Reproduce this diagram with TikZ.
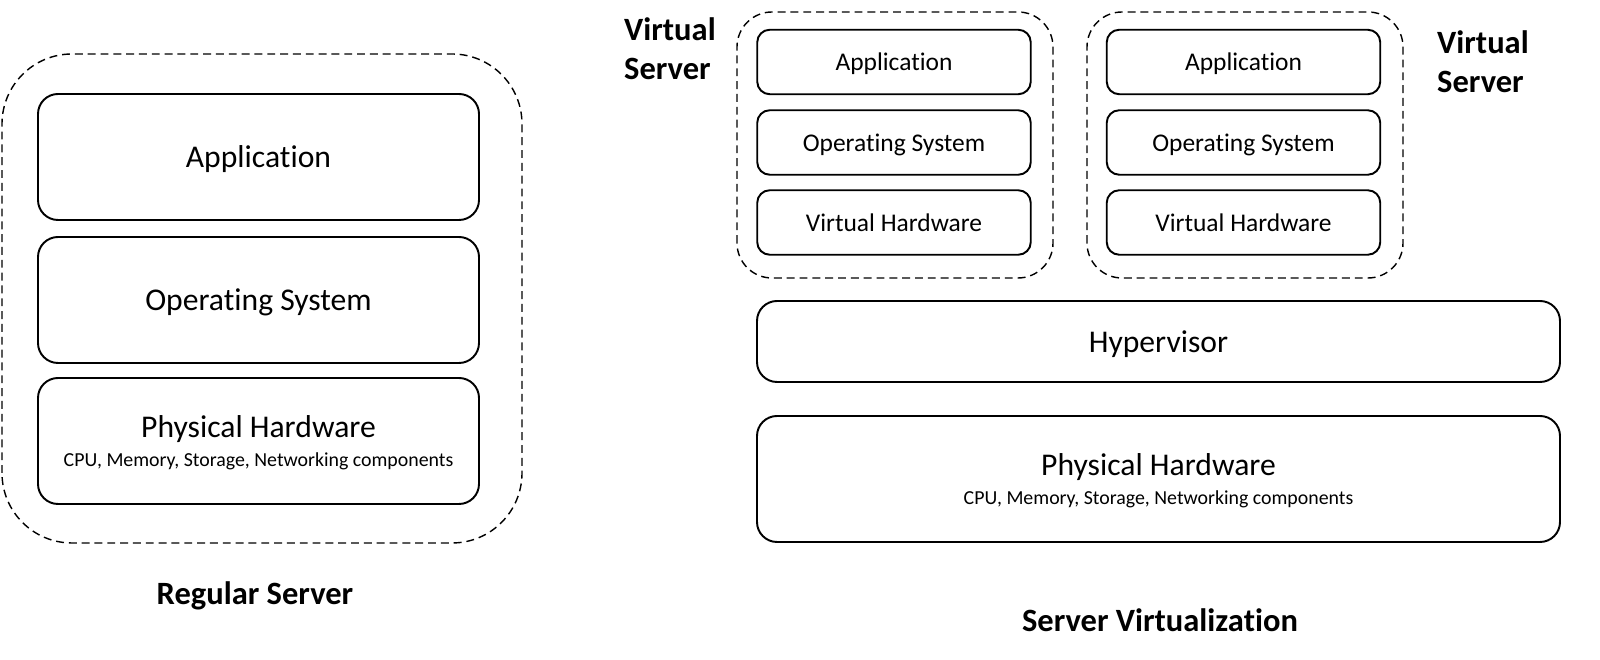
\documentclass[tikz,border=0pt]{standalone}
\usepackage{fontspec}
\setmainfont[Ligatures=NoCommon]{Carlito}
\tikzset{
	layer/.style={draw, line width=1.1pt, rounded corners=0.4cm, align=center, text depth=0pt,
		minimum width=8.82cm, minimum height=2.52cm, font=\fontsize{18}{21}\selectfont},
	vlayer/.style={draw, line width=1.1pt, rounded corners=0.25cm, text depth=0pt,
		minimum width=5.47cm, minimum height=1.29cm, font=\fontsize{14.5}{17}\selectfont},
	server/.style={draw, line width=0.8pt, dash pattern=on 4.5pt off 2.8pt, rounded corners=#1},
	caption/.style={font=\bfseries\fontsize{18.5}{22}\selectfont, align=left}
}
\newcommand{\hwdetail}{\\[-5pt]{\fontsize{11.3}{13}\selectfont CPU, Memory, Storage, Networking components}}

\begin{document}
\begin{tikzpicture}
		\useasboundingbox (0,0) rectangle (32,13.2);

		% Regular server (left)
		\draw[server=1.4cm] (0.04,2.34) rectangle (10.44,12.12);
		\node[layer] (app) at (5.17,10.06) {Application};
		\node[layer] (os) at (5.17,7.2) {Operating System};
		\node[layer] (hw) at (5.17,4.38) {Physical Hardware\hwdetail};
		\node[caption] (regular) at (5.1,1.28) {Regular Server};

		% -----------------------------------------------------
		% Virtual servers
		\draw[server=0.7cm] (14.74,7.64) rectangle (21.06,12.96);
		\node[vlayer] (app1) at (17.88,11.96) {Application};
		\node[vlayer] (os1) at (17.88,10.35) {Operating System};
		\node[vlayer] (vhw1) at (17.88,8.75) {Virtual Hardware};
		\node[caption, anchor=west] (vs1) at (12.36,12.22) {Virtual\\Server};

		\draw[server=0.7cm] (21.74,7.64) rectangle (28.06,12.96);
		\node[vlayer] (app2) at (24.87,11.96) {Application};
		\node[vlayer] (os2) at (24.87,10.35) {Operating System};
		\node[vlayer] (vhw2) at (24.87,8.75) {Virtual Hardware};
		\node[caption, anchor=west] (vs2) at (28.62,11.96) {Virtual\\Server};

		% -----------------------------------------------------
		% Hypervisor and host hardware
		\node[layer, minimum width=16.06cm, minimum height=1.62cm] (hyp) at (23.17,6.37) {Hypervisor};
		\node[layer, minimum width=16.06cm] (host) at (23.17,3.62) {Physical Hardware\hwdetail};
		\node[caption] (virt) at (23.2,0.8) {Server Virtualization};

		\end{tikzpicture}
\end{document}
